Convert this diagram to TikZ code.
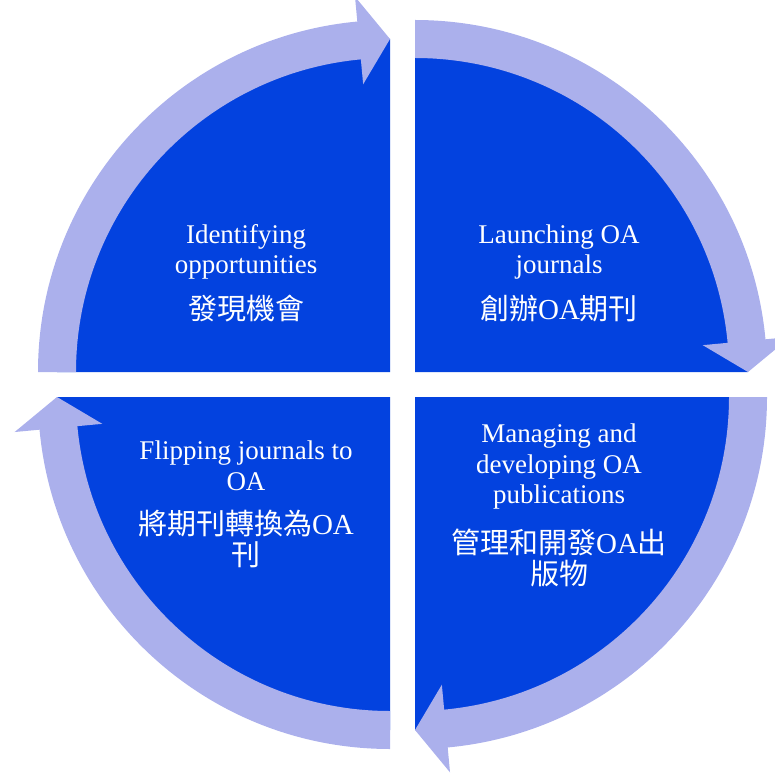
\documentclass[tikz,border=0pt]{standalone}
\usepackage{fontspec}
\usepackage{xcolor}
\setmainfont{Liberation Serif}
\newfontfamily\cjk{Noto Sans CJK TC}
\usetikzlibrary{positioning}

\definecolor{sectorblue}{HTML}{0342DF}
\definecolor{ringlilac}{HTML}{ABB0EC}

\tikzset{
  sector/.style={fill=sectorblue},
  ringarrow/.style={fill=ringlilac},
  entext/.style={text=white, align=center, inner sep=0pt, font=\fontsize{27}{30.5}\selectfont},
  zhtext/.style={text=white, align=center, inner sep=0pt, font=\fontsize{29}{31.5}\selectfont\cjk}
}

\begin{document}
\begin{tikzpicture}[x=1pt, y=1pt]
\useasboundingbox (0,0) rectangle (775,772);

% quarter sectors
\fill[sector] (390,400) -- ++(180:333pt) arc[start angle=180, end angle=90, radius=333pt] -- cycle;
\fill[sector] (415,400) -- ++(90:333pt) arc[start angle=90, end angle=0, radius=333pt] -- cycle;
\fill[sector] (415,375) -- ++(0:333pt) arc[start angle=0, end angle=-90, radius=333pt] -- cycle;
\fill[sector] (390,375) -- ++(-90:333pt) arc[start angle=-90, end angle=-180, radius=333pt] -- cycle;

% ring arrows, clockwise
\begin{scope}[shift={(390,400)}]
\fill[ringarrow] (180:352pt) arc[start angle=180, end angle=95.33, radius=352pt] -- (95.33:377pt) -- (90:333pt) -- (95.33:289pt) -- (95.33:314pt) arc[start angle=95.33, end angle=180, radius=314pt] -- cycle;
\end{scope}
\begin{scope}[shift={(415,400)}]
\fill[ringarrow] (90:352pt) arc[start angle=90, end angle=5.33, radius=352pt] -- (5.33:377pt) -- (0:333pt) -- (5.33:289pt) -- (5.33:314pt) arc[start angle=5.33, end angle=90, radius=314pt] -- cycle;
\end{scope}
\begin{scope}[shift={(415,375)}]
\fill[ringarrow] (0:352pt) arc[start angle=0, end angle=-84.67, radius=352pt] -- (-84.67:377pt) -- (-90:333pt) -- (-84.67:289pt) -- (-84.67:314pt) arc[start angle=-84.67, end angle=0, radius=314pt] -- cycle;
\end{scope}
\begin{scope}[shift={(390,375)}]
\fill[ringarrow] (-90:352pt) arc[start angle=-90, end angle=-174.67, radius=352pt] -- (-174.67:377pt) -- (-180:333pt) -- (-174.67:289pt) -- (-174.67:314pt) arc[start angle=-174.67, end angle=-90, radius=314pt] -- cycle;
\end{scope}

% labels
\node[entext] (idEn) at (246,520) {Identifying\\opportunities};
\node[zhtext] (idZh) at (246,463) {發現機會};
\node[entext] (launchEn) at (559,520) {Launching OA\\journals};
\node[zhtext] (launchZh) at (559,463) {創辦{\rmfamily OA}期刊};
\node[entext] (manageEn) at (559,305) {Managing and\\developing OA\\publications};
\node[zhtext] (manageZh) at (559,214) {管理和開發{\rmfamily OA}出\\版物};
\node[entext] (flipEn) at (246,306) {Flipping journals to\\OA};
\node[zhtext] (flipZh) at (246,233) {將期刊轉換為{\rmfamily OA}\\刊};
\end{tikzpicture}
\end{document}
